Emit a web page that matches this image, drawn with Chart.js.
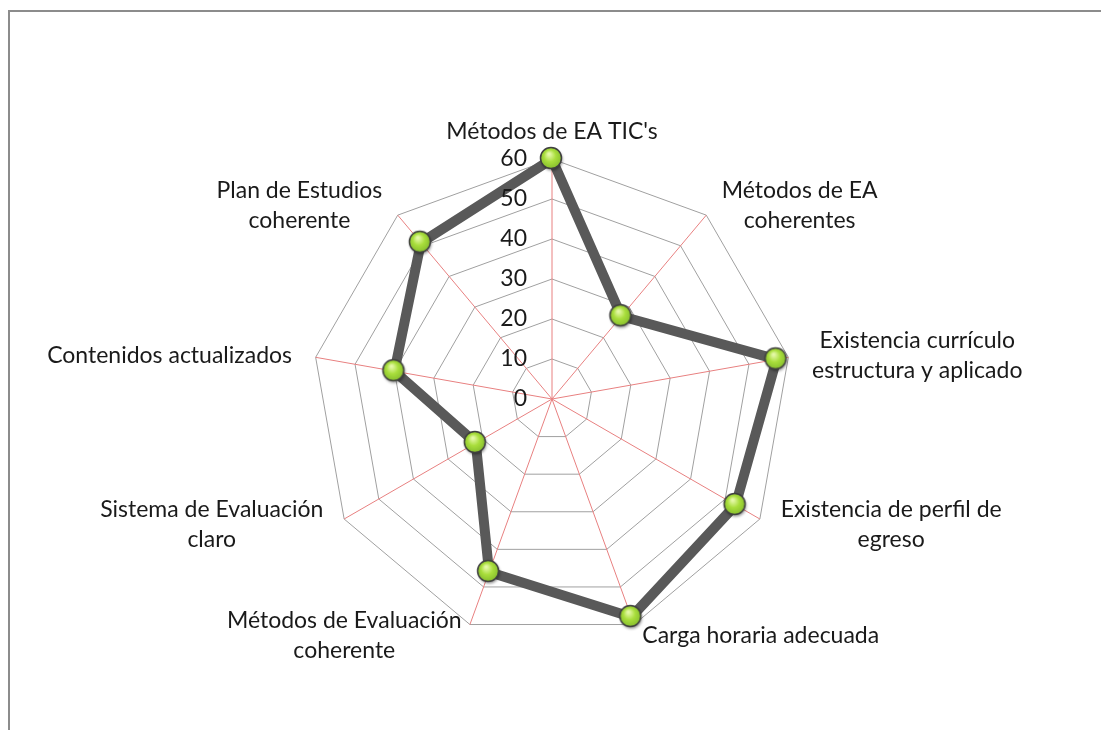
<!DOCTYPE html>
<html>
<head>
<meta charset="utf-8">
<script src="https://cdn.jsdelivr.net/npm/chart.js@4.4.1/dist/chart.umd.min.js"></script>
<style>
  html, body { margin: 0; padding: 0; background: #fff; overflow: hidden; }
  #frame { position: absolute; left: 8px; top: 10px; width: 1200px; height: 800px;
           border-top: 2px solid #8c8c8c; border-left: 2px solid #8c8c8c; }
  #radar { position: absolute; left: 0; top: 0; }
</style>
</head>
<body>
<div id="frame"></div>
<canvas id="radar" width="1101" height="730"></canvas>
<script>
const categories = [
    ["Métodos de EA TIC's"],
    ['Métodos de EA', 'coherentes'],
    ['Existencia currículo', 'estructura y aplicado'],
    ['Existencia de perfil de', 'egreso'],
    ['Carga horaria adecuada'],
    ['Métodos de Evaluación', 'coherente'],
    ['Sistema de Evaluación', 'claro'],
    ['Contenidos actualizados'],
    ['Plan de Estudios', 'coherente']
];
const values = [60, 27, 57, 53, 58, 46, 22, 40, 51];
const tickValues = [0, 10, 20, 30, 40, 50, 60];

const labelFont = '23px Lato, "Open Sans", sans-serif';
const lineH = 30;

// glossy green marker like the Excel one
function makeMarker() {
    const c = document.createElement('canvas');
    c.width = 32; c.height = 32;
    const g = c.getContext('2d');
    g.shadowColor = 'rgba(0,0,0,0.45)';
    g.shadowBlur = 3;
    g.shadowOffsetX = 1;
    g.shadowOffsetY = 2;
    const grad = g.createRadialGradient(13, 11, 1, 15, 15, 12);
    grad.addColorStop(0, '#e4f8a6');
    grad.addColorStop(0.45, '#a9de3c');
    grad.addColorStop(1, '#80b82a');
    g.beginPath();
    g.arc(15, 15, 10.5, 0, Math.PI * 2);
    g.fillStyle = grad;
    g.fill();
    g.shadowColor = 'transparent';
    g.lineWidth = 1.5;
    g.strokeStyle = '#3f3f3f';
    g.stroke();
    return c;
}

// axis numbers and category names, placed the way Excel does it
const axisText = {
    id: 'axisText',
    afterDraw(chart) {
        const scale = chart.scales.r;
        const ctx = chart.ctx;
        ctx.save();
        ctx.font = labelFont;
        ctx.fillStyle = '#1a1a1a';
        ctx.textBaseline = 'middle';

        ctx.textAlign = 'right';
        scale.ticks.forEach(t => {
            const y = scale.yCenter - scale.getDistanceFromCenterForValue(t.value);
            ctx.fillText(t.label, scale.xCenter - 25, y);
        });

        ctx.textAlign = 'center';
        categories.forEach((lines, i) => {
            const a = scale.getIndexAngle(i);
            const s = Math.sin(a), c = Math.cos(a);
            const v = scale.getPointPosition(i, scale.drawingArea);
            const h = lines.length * lineH;
            const w = Math.max(...lines.map(l => ctx.measureText(l).width));
            let cx, cy;
            if (Math.abs(s) < 0.1) {
                cx = v.x;
                cy = c > 0 ? v.y - 12 - h / 2 : v.y + 12 + h / 2;
            } else {
                cy = v.y - c * 12;
                cx = s > 0 ? v.x + s * 24 + w / 2 : v.x + s * 24 - w / 2;
            }
            lines.forEach((l, k) => ctx.fillText(l, cx, cy - h / 2 + lineH * (k + 0.5)));
        });
        ctx.restore();
    }
};

new Chart(document.getElementById('radar'), {
    type: 'radar',
    data: {
        labels: categories,
        datasets: [{
            data: values,
            borderColor: '#595959',
            borderWidth: 10,
            borderJoinStyle: 'round',
            fill: false,
            pointStyle: makeMarker(),
            pointRadius: 11
        }]
    },
    options: {
        responsive: false,
        animation: false,
        layout: { padding: { top: 159, bottom: 91, left: 312, right: 309 } },
        plugins: { legend: { display: false }, tooltip: { enabled: false } },
        scales: {
            r: {
                min: 0,
                max: 60,
                afterBuildTicks: s => { s.ticks = tickValues.map(v => ({ value: v })); },
                ticks: { display: false },
                pointLabels: { display: false },
                grid: { color: '#a0a0a0', lineWidth: 1 },
                angleLines: { color: '#e88080', lineWidth: 1 }
            }
        }
    },
    plugins: [axisText]
});
</script>
</body>
</html>
